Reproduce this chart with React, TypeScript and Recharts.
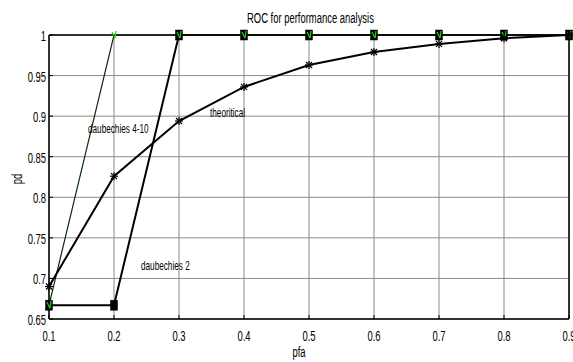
import React from 'react';
import { LineChart, Line, XAxis, YAxis, CartesianGrid, ReferenceLine } from 'recharts';

const pfa = [0.1, 0.2, 0.3, 0.4, 0.5, 0.6, 0.7, 0.8, 0.9];
const theoritical = [0.69, 0.826, 0.894, 0.936, 0.963, 0.979, 0.989, 0.996, 1.0];
const daubechies410 = [0.667, 1, 1, 1, 1, 1, 1, 1, 1];
const daubechies2 = [0.667, 0.667, 1, 1, 1, 1, 1, 1, 1];
const xTicks = [0.1, 0.2, 0.3, 0.4, 0.5, 0.6, 0.7, 0.8, 0.9];
const yTicks = [0.65, 0.7, 0.75, 0.8, 0.85, 0.9, 0.95, 1];

const data = pfa.map((x, i) => ({
  x,
  theo: theoritical[i],
  d410: daubechies410[i],
  d2: daubechies2[i],
}));

const FONT = '"Liberation Sans", Arial, sans-serif';
const SX = 0.63;

const Asterisk = (props: any) => {
  const { cx, cy } = props;
  if (cx == null || cy == null) return null;
  const r = 4;
  return (
    <g stroke="#000" strokeWidth={1.2}>
      <line x1={cx - r} y1={cy} x2={cx + r} y2={cy} />
      <line x1={cx} y1={cy - r} x2={cx} y2={cy + r} />
      <line x1={cx - 3} y1={cy - 3} x2={cx + 3} y2={cy + 3} />
      <line x1={cx - 3} y1={cy + 3} x2={cx + 3} y2={cy - 3} />
    </g>
  );
};

const Square = (props: any) => {
  const { cx, cy } = props;
  if (cx == null || cy == null) return null;
  return <rect x={cx - 3.5} y={cy - 5} width={7} height={10} fill="#000" stroke="#000" strokeWidth={0.5} />;
};

const GreenMark = (props: any) => {
  const { cx, cy } = props;
  if (cx == null || cy == null) return null;
  return (
    <g stroke="#1fd01f" strokeWidth={1.2} fill="none">
      <line x1={cx - 2} y1={cy - 3} x2={cx + 1} y2={cy + 3} />
      <line x1={cx + 1} y1={cy + 3} x2={cx + 2} y2={cy - 4} />
    </g>
  );
};

const XTick = (props: any) => {
  const { x, y, payload } = props;
  return (
    <g>
      <line x1={x} y1={y} x2={x} y2={y - 4} stroke="#000" strokeWidth={1} />
      <text
        transform={`translate(${x},${y + 22}) scale(${SX},1)`}
        textAnchor="middle"
        fontSize={15}
        fontFamily={FONT}
        fill="#000"
      >
        {String(payload.value)}
      </text>
    </g>
  );
};

const YTick = (props: any) => {
  const { x, y, payload } = props;
  return (
    <g>
      <line x1={x} y1={y} x2={x + 4} y2={y} stroke="#000" strokeWidth={1} />
      <text
        transform={`translate(${x - 3},${y + 6}) scale(${SX},1)`}
        textAnchor="end"
        fontSize={15}
        fontFamily={FONT}
        fill="#000"
      >
        {String(payload.value)}
      </text>
    </g>
  );
};

const T = ({ x, y, size, children, anchor = 'start', rotate = 0 }: any) => (
  <text
    transform={`translate(${x},${y}) rotate(${rotate}) scale(${SX},1)`}
    textAnchor={anchor}
    fontSize={size}
    fontFamily={FONT}
    fill="#000"
  >
    {children}
  </text>
);

export default function App() {
  return (
    <div style={{ position: 'absolute', left: 0, top: 0, width: 573, height: 362, background: '#fff', overflow: 'hidden' }}>
      <LineChart width={573} height={362} data={data} margin={{ top: 35, right: 4, left: 0, bottom: 0 }}>
        <CartesianGrid stroke="#8a8a8a" strokeWidth={1} horizontal vertical />
        <XAxis
          dataKey="x"
          type="number"
          domain={[0.1, 0.9]}
          ticks={xTicks}
          interval={0}
          height={43}
          tick={<XTick />}
          tickLine={false}
          tickSize={0}
          tickMargin={0}
          axisLine={{ stroke: '#000', strokeWidth: 1.5 }}
        />
        <YAxis
          type="number"
          domain={[0.65, 1]}
          ticks={yTicks}
          interval={0}
          width={49}
          tick={<YTick />}
          tickLine={false}
          tickSize={0}
          tickMargin={0}
          axisLine={{ stroke: '#000', strokeWidth: 1.5 }}
        />
        <ReferenceLine x={0.9} stroke="#000" strokeWidth={1.5} />
        <ReferenceLine y={1} stroke="#000" strokeWidth={1.5} />
        <Line dataKey="d2" stroke="#000" strokeWidth={2} dot={<Square />} isAnimationActive={false} />
        <Line dataKey="d410" stroke="#0b2a0b" strokeWidth={1.2} dot={<GreenMark />} isAnimationActive={false} />
        <Line dataKey="theo" stroke="#000" strokeWidth={2} dot={<Asterisk />} isAnimationActive={false} />
      </LineChart>
      <svg width={573} height={362} style={{ position: 'absolute', left: 0, top: 0, pointerEvents: 'none' }}>
        <T x={247} y={23} size={15}>ROC for performance analysis</T>
        <T x={88} y={133} size={13}>daubechies 4-10</T>
        <T x={210} y={117} size={13}>theoritical</T>
        <T x={141} y={270} size={13}>daubechies 2</T>
        <T x={299} y={357} size={15} anchor="middle">pfa</T>
        <T x={22} y={179} size={15} anchor="middle" rotate={-90}>pd</T>
      </svg>
    </div>
  );
}
